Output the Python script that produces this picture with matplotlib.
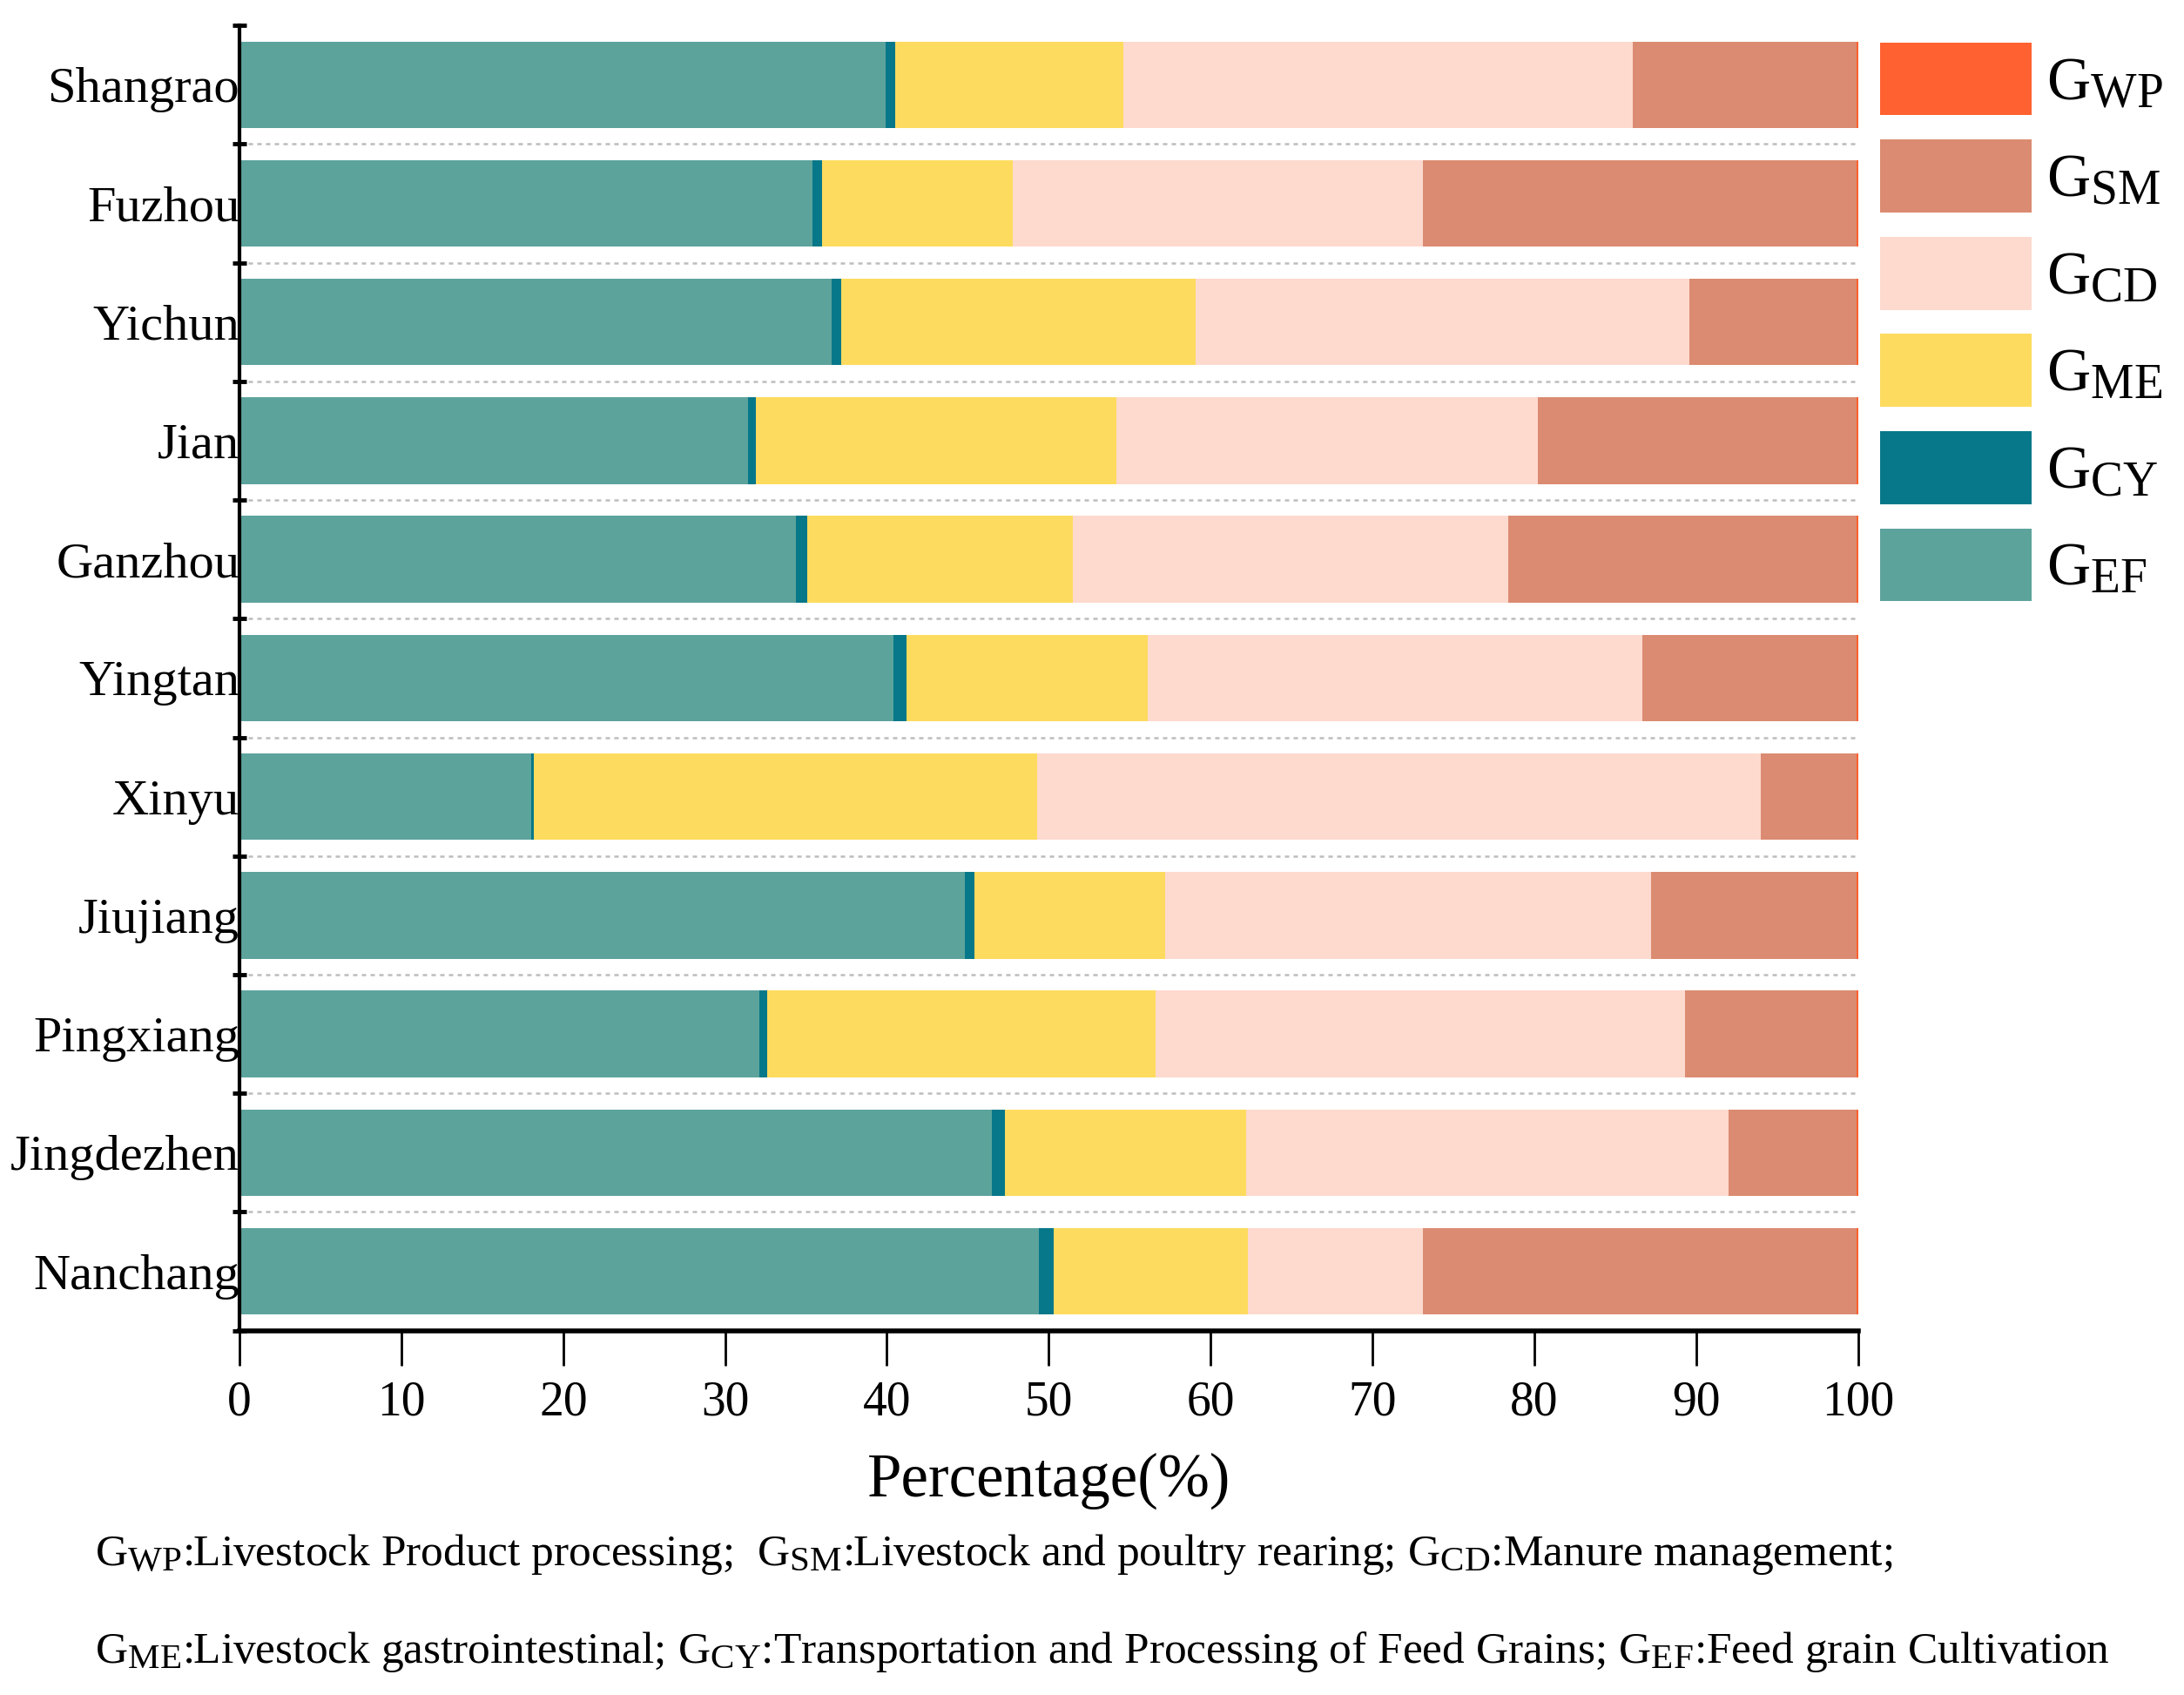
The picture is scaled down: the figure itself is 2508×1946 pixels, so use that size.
import numpy as np
import matplotlib
matplotlib.use('Agg')
import matplotlib.pyplot as plt
import matplotlib._mathtext as mathtext_internal
from matplotlib.ticker import FixedLocator

# subscripts in the original are larger than matplotlib's default 0.7
mathtext_internal.SHRINK_FACTOR = 0.8

plt.rcParams['font.family'] = ['Liberation Serif', 'DejaVu Serif']
plt.rcParams['mathtext.fontset'] = 'custom'
plt.rcParams['mathtext.rm'] = 'Liberation Serif'
plt.rcParams['mathtext.it'] = 'Liberation Serif:italic'
plt.rcParams['mathtext.bf'] = 'Liberation Serif:bold'

# cities from bottom to top
cities = ['Nanchang', 'Jingdezhen', 'Pingxiang', 'Jiujiang', 'Xinyu', 'Yingtan',
          'Ganzhou', 'Jian', 'Yichun', 'Fuzhou', 'Shangrao']

# shares in percent, stacked left to right
g_ef = [49.4, 46.5, 32.1, 44.8, 18.0, 40.4, 34.4, 31.4, 36.6, 35.4, 39.9]
g_cy = [0.9, 0.8, 0.5, 0.6, 0.2, 0.8, 0.7, 0.5, 0.6, 0.6, 0.6]
g_me = [12.0, 14.9, 24.0, 11.8, 31.1, 14.9, 16.4, 22.3, 21.9, 11.8, 14.1]
g_cd = [10.8, 29.8, 32.7, 30.0, 44.7, 30.6, 26.9, 26.0, 30.5, 25.3, 31.5]
g_sm = [26.8, 7.9, 10.6, 12.7, 5.9, 13.2, 21.5, 19.7, 10.3, 26.8, 13.8]
g_wp = [0.1, 0.1, 0.1, 0.1, 0.1, 0.1, 0.1, 0.1, 0.1, 0.1, 0.1]

series = [
    (g_ef, r'$\mathrm{G_{EF}}$', '#5CA39C'),
    (g_cy, r'$\mathrm{G_{CY}}$', '#077889'),
    (g_me, r'$\mathrm{G_{ME}}$', '#FDDB5E'),
    (g_cd, r'$\mathrm{G_{CD}}$', '#FDD9CE'),
    (g_sm, r'$\mathrm{G_{SM}}$', '#DB8B71'),
    (g_wp, r'$\mathrm{G_{WP}}$', '#FF6130'),
]

fig = plt.figure(figsize=(25.08, 19.46), dpi=100)
ax = fig.add_axes([0.1097, 0.215, 0.741, 0.770])

y = np.arange(len(cities))
left = np.zeros(len(cities))
handles = []
for vals, label, color in series:
    vals = np.array(vals)
    h = ax.barh(y, vals, left=left, height=0.73, color=color, label=label,
                edgecolor='none', zorder=2)
    handles.append(h)
    left += vals

ax.set_xlim(0, 100)
ax.set_ylim(-0.5, len(cities) - 0.5)
ax.set_xticks(np.arange(0, 101, 10))
ax.set_yticks(y)
ax.set_yticklabels(cities)
bounds = np.arange(-0.5, len(cities), 1.0)
ax.yaxis.set_minor_locator(FixedLocator(bounds))

ax.tick_params(axis='y', which='major', length=0, pad=0, labelsize=42)
ax.tick_params(axis='y', which='minor', direction='inout', length=12, width=3.5)
ax.tick_params(axis='x', which='major', direction='out', length=29, width=2,
               pad=12, labelsize=40)

# dashed separators between the city rows
ax.hlines(bounds[1:-1], 0, 100, colors='#BDBDBD', linestyles=(0, (2, 2)),
          linewidth=1.8, zorder=1)

for side in ['top', 'right']:
    ax.spines[side].set_visible(False)
ax.spines['left'].set_linewidth(3)
ax.spines['bottom'].set_linewidth(4)

ax.set_xlabel('Percentage(%)', fontsize=51, labelpad=22)

fig.legend(handles=handles[::-1], loc='upper left',
           bbox_to_anchor=(0.861, 0.975), frameon=False, fontsize=50,
           handlelength=2.5, handleheight=1.48, handletextpad=0.25,
           labelspacing=0.4, borderaxespad=0, borderpad=0)

fig.text(0.0434, 0.083,
         r'$\mathrm{G_{WP}}$:Livestock Product processing;  '
         r'$\mathrm{G_{SM}}$:Livestock and poultry rearing; '
         r'$\mathrm{G_{CD}}$:Manure management;',
         fontsize=37, va='center', ha='left')
fig.text(0.0434, 0.0255,
         r'$\mathrm{G_{ME}}$:Livestock gastrointestinal; '
         r'$\mathrm{G_{CY}}$:Transportation and Processing of Feed Grains; '
         r'$\mathrm{G_{EF}}$:Feed grain Cultivation',
         fontsize=37, va='center', ha='left')

fig.savefig('out.png', dpi=100)
